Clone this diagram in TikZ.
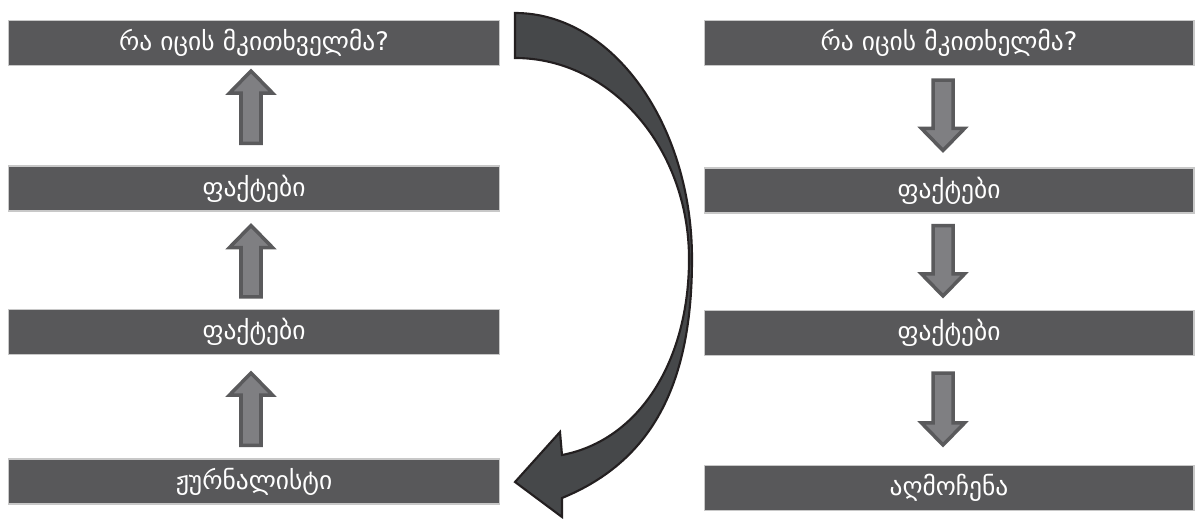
\documentclass[tikz,border=0pt]{standalone}
\usepackage{fontspec}
\newfontfamily\geo{DejaVu Sans}
\usetikzlibrary{calc}

\definecolor{boxfill}{HTML}{58585A}
\definecolor{boxline}{HTML}{C8C8C8}
\definecolor{arrowfill}{HTML}{7F7F82}
\definecolor{arrowline}{HTML}{5A5A5C}
\definecolor{bendfill}{HTML}{46484A}
\definecolor{bendline}{HTML}{231F20}

% fat block arrow from #1 (tail) to #2 (tip)
\newcommand\blockarrow[2]{%
  \coordinate (h) at ($(#2)!0.44cm!(#1)$);
  \draw[blockarrow] ($(#1)!0.2cm!90:(#2)$) -- ($(h)!0.2cm!-90:(#1)$)
    -- ($(h)!0.43cm!-90:(#1)$) -- (#2) -- ($(h)!0.43cm!90:(#1)$)
    -- ($(h)!0.2cm!90:(#1)$) -- ($(#1)!0.2cm!-90:(#2)$) -- cycle;}

\begin{document}
\begin{tikzpicture}[x=0.02cm, y=-0.02cm,
  box/.style={draw=boxline, line width=0.6pt, fill=boxfill, text=white,
    minimum width=9.84cm, minimum height=0.9cm, inner sep=0pt,
    font=\geo\fontsize{14.5}{17}\selectfont},
  blockarrow/.style={draw=arrowline, fill=arrowfill, line width=2pt}]
\useasboundingbox (0,0) rectangle (1195,519);

\node[box] (l1) at (254,43) {რა იცის მკითხველმა?};
\node[box] (l2) at (254,188.5) {ფაქტები};
\node[box] (l3) at (254,332) {ფაქტები};
\node[box] (l4) at (254,481.5) {ჟურნალისტი};

\node[box, minimum width=9.8cm] (r1) at (949,43) {რა იცის მკითხელმა?};
\node[box, minimum width=9.8cm] (r2) at (949,190.5) {ფაქტები};
\node[box, minimum width=9.8cm] (r3) at (949,333) {ფაქტები};
\node[box, minimum width=9.8cm] (r4) at (949,488) {აღმოჩენა};

% upward arrows on the left
\coordinate (a1) at ($(l2.north)+(-3,-22)$);
\coordinate (a2) at ($(l1.south)+(-3,5)$);
\coordinate (a3) at ($(l3.north)+(-3,-12)$);
\coordinate (a4) at ($(l2.south)+(-3,14)$);
\coordinate (a5) at ($(l4.north)+(-3,-13)$);
\coordinate (a6) at ($(l3.south)+(-3,18)$);
\blockarrow{a1}{a2}
\blockarrow{a3}{a4}
\blockarrow{a5}{a6}

% downward arrows on the right
\coordinate (b1) at ($(r1.south)+(-6,14)$);
\coordinate (b2) at ($(r2.north)+(-6,-17)$);
\coordinate (b3) at ($(r2.south)+(-6,12)$);
\coordinate (b4) at ($(r3.north)+(-6,-14)$);
\coordinate (b5) at ($(r3.south)+(-6,17)$);
\coordinate (b6) at ($(r4.north)+(-6,-20)$);
\blockarrow{b1}{b2}
\blockarrow{b3}{b4}
\blockarrow{b5}{b6}

% big bent arrow back down to the journalist
\draw[fill=bendfill, draw=bendline, line width=1.2pt, line join=miter]
  (515,13) .. controls (613,13) and (692,125) .. (692,259)
  .. controls (692,380) and (655,460) .. (562,498)
  -- (562,517) -- (515,482) -- (560,432) -- (562,455)
  .. controls (640,440) and (689,360) .. (689,259)
  .. controls (689,148) and (611,58) .. (515,58) -- cycle;
\end{tikzpicture}
\end{document}
